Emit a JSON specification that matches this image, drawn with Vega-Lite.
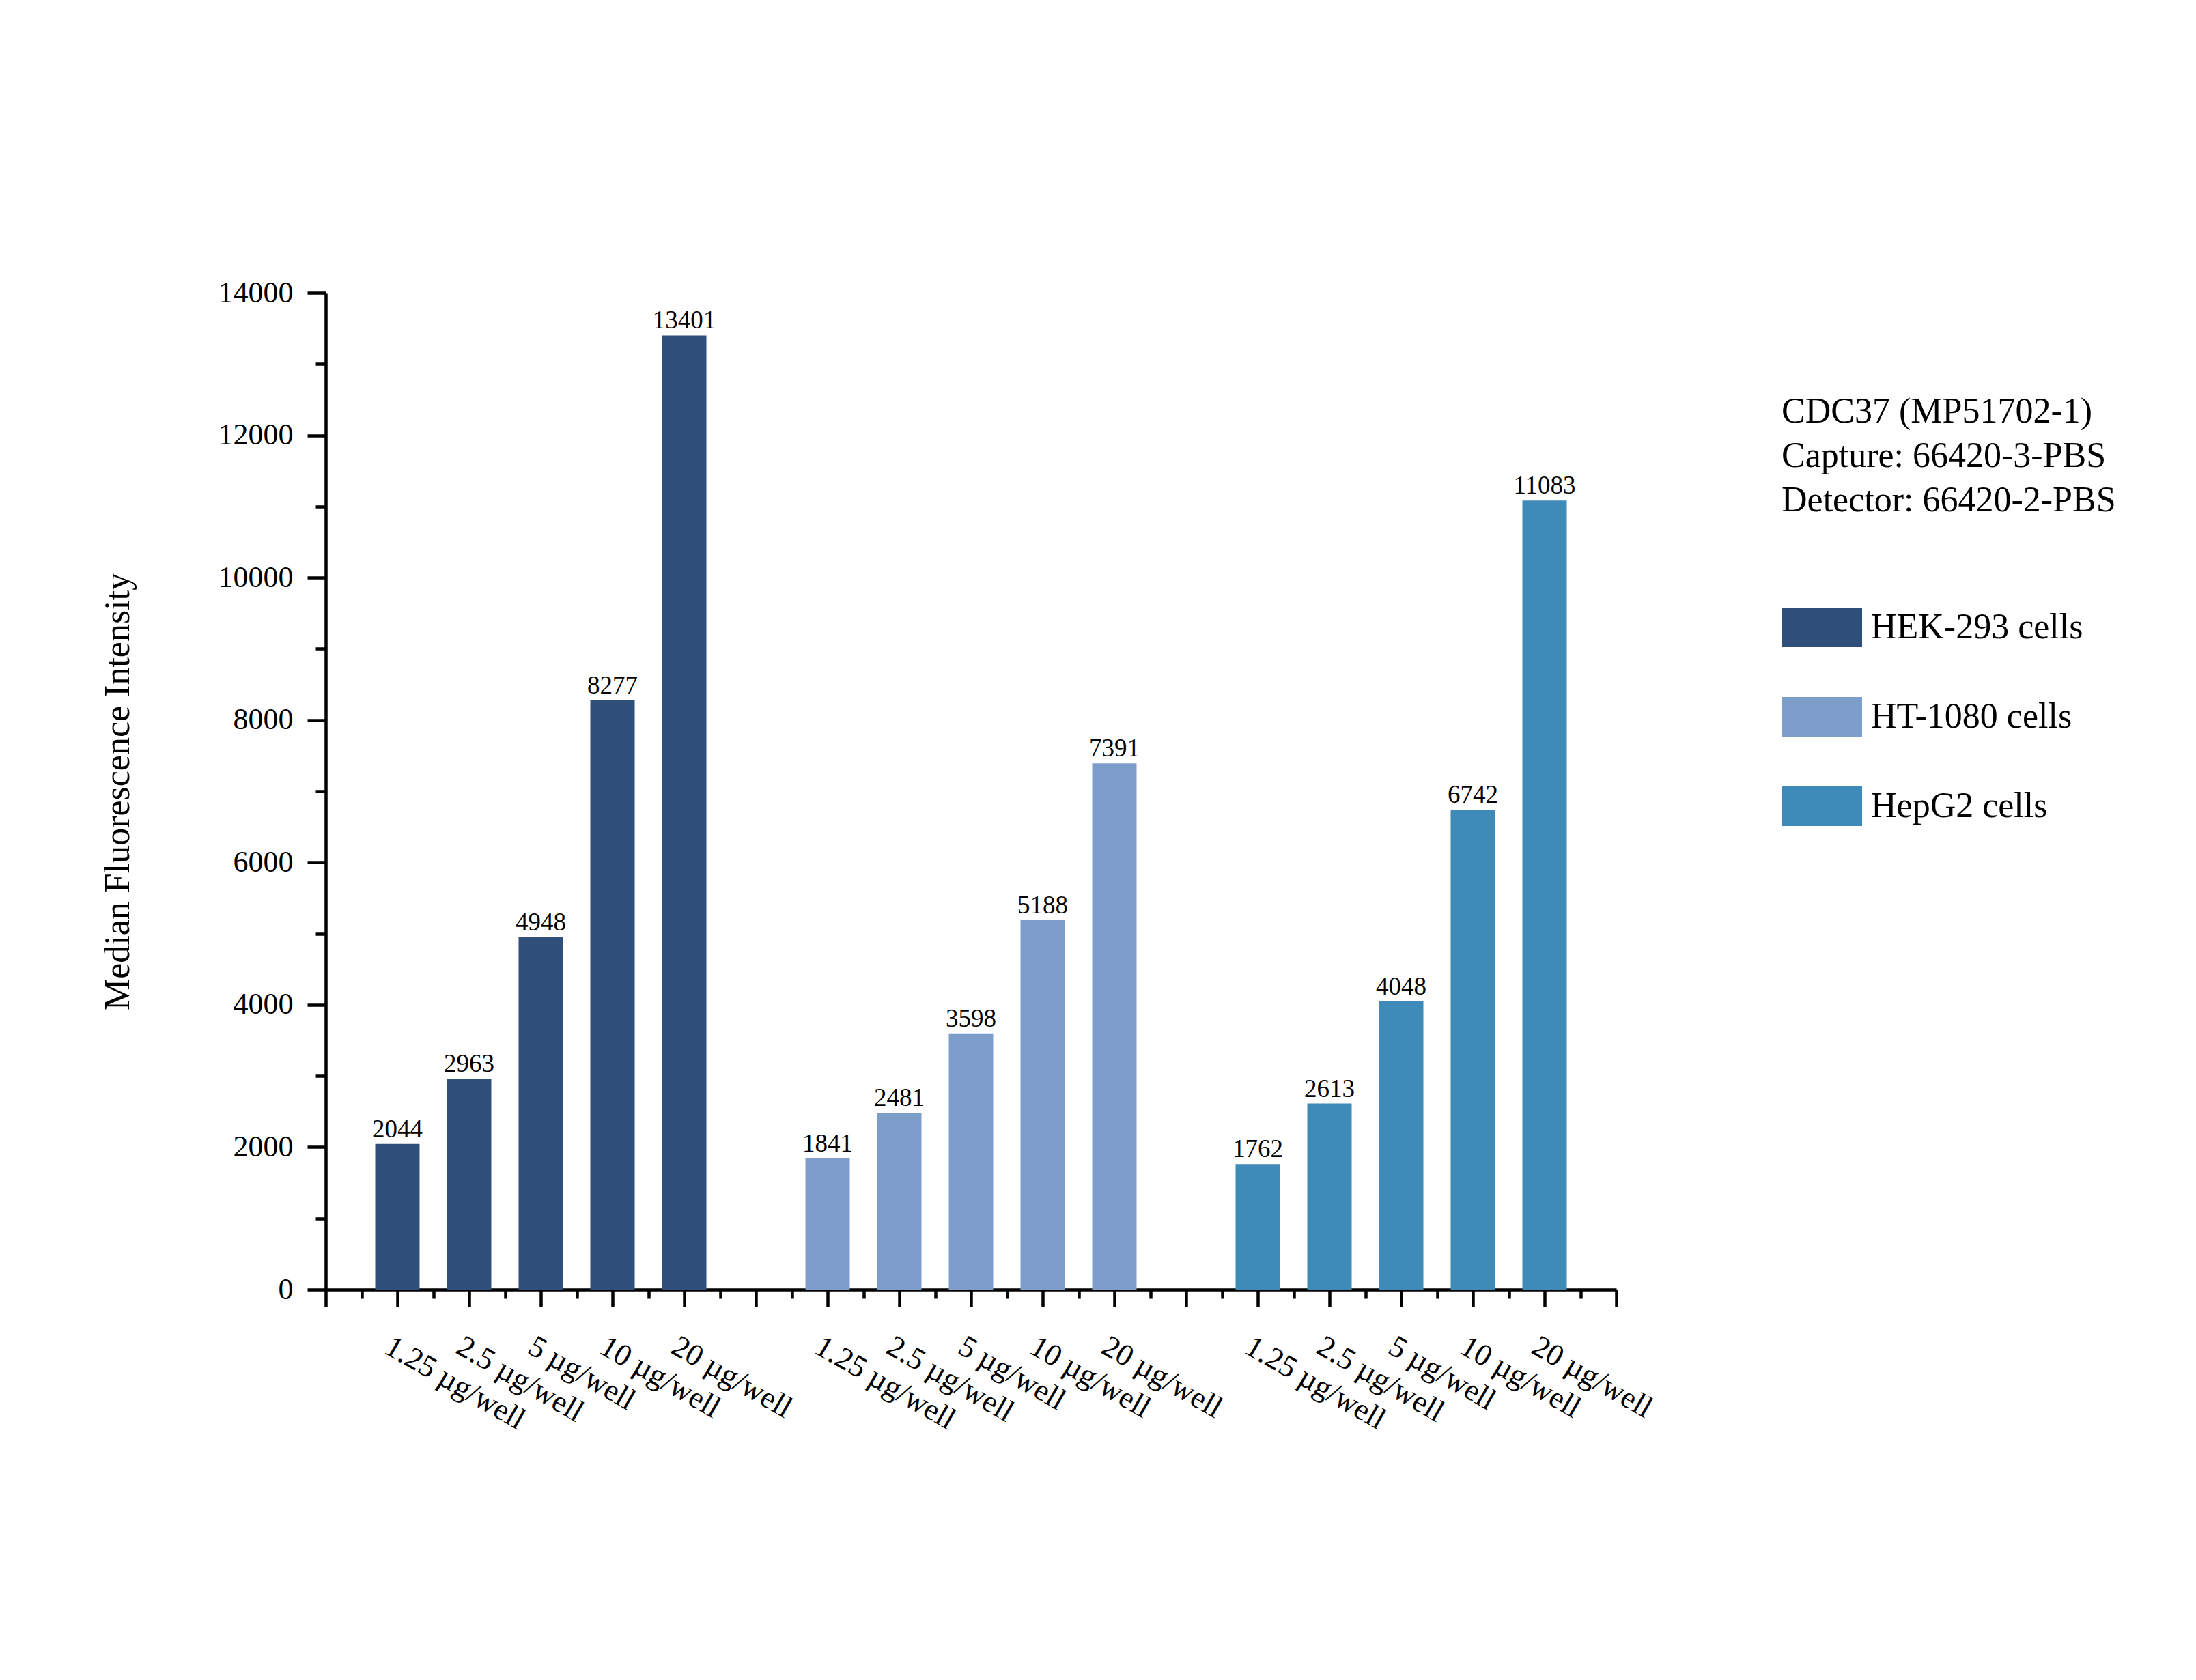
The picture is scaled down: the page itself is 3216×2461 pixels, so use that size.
{
  "$schema": "https://vega.github.io/schema/vega-lite/v6.json",
  "width": 1890,
  "height": 1460,
  "autosize": {"type": "none"},
  "padding": {"left": 477, "top": 429, "right": 849, "bottom": 572},
  "background": "white",
  "config": {
    "view": {"stroke": null},
    "font": "Liberation Serif",
    "axis": {
      "labelFont": "Liberation Serif",
      "titleFont": "Liberation Serif",
      "labelColor": "black",
      "titleColor": "black",
      "domainColor": "black",
      "tickColor": "black",
      "domainWidth": 4.5,
      "tickWidth": 4.5,
      "grid": false
    },
    "legend": {
      "labelFont": "Liberation Serif",
      "titleFont": "Liberation Serif"
    }
  },
  "data": {
    "values": [
      {"cells": "HEK-293 cells", "dose": "1.25 µg/well", "mfi": 2044},
      {"cells": "HEK-293 cells", "dose": "2.5 µg/well", "mfi": 2963},
      {"cells": "HEK-293 cells", "dose": "5 µg/well", "mfi": 4948},
      {"cells": "HEK-293 cells", "dose": "10 µg/well", "mfi": 8277},
      {"cells": "HEK-293 cells", "dose": "20 µg/well", "mfi": 13401},
      {"cells": "HT-1080 cells", "dose": "1.25 µg/well", "mfi": 1841},
      {"cells": "HT-1080 cells", "dose": "2.5 µg/well", "mfi": 2481},
      {"cells": "HT-1080 cells", "dose": "5 µg/well", "mfi": 3598},
      {"cells": "HT-1080 cells", "dose": "10 µg/well", "mfi": 5188},
      {"cells": "HT-1080 cells", "dose": "20 µg/well", "mfi": 7391},
      {"cells": "HepG2 cells", "dose": "1.25 µg/well", "mfi": 1762},
      {"cells": "HepG2 cells", "dose": "2.5 µg/well", "mfi": 2613},
      {"cells": "HepG2 cells", "dose": "5 µg/well", "mfi": 4048},
      {"cells": "HepG2 cells", "dose": "10 µg/well", "mfi": 6742},
      {"cells": "HepG2 cells", "dose": "20 µg/well", "mfi": 11083}
    ]
  },
  "transform": [
    {"calculate": "datum.cells + '|' + datum.dose", "as": "bar"}
  ],
  "encoding": {
    "x": {
      "field": "bar",
      "type": "nominal",
      "sort": null,
      "scale": {
        "type": "point",
        "padding": 0,
        "domain": [
          "_a", "~1",
          "HEK-293 cells|1.25 µg/well", "~2", "HEK-293 cells|2.5 µg/well", "~3", "HEK-293 cells|5 µg/well", "~4", "HEK-293 cells|10 µg/well", "~5", "HEK-293 cells|20 µg/well", "~6",
          "_b", "~7",
          "HT-1080 cells|1.25 µg/well", "~8", "HT-1080 cells|2.5 µg/well", "~9", "HT-1080 cells|5 µg/well", "~10", "HT-1080 cells|10 µg/well", "~11", "HT-1080 cells|20 µg/well", "~12",
          "_c", "~13",
          "HepG2 cells|1.25 µg/well", "~14", "HepG2 cells|2.5 µg/well", "~15", "HepG2 cells|5 µg/well", "~16", "HepG2 cells|10 µg/well", "~17", "HepG2 cells|20 µg/well", "~18",
          "_d"
        ]
      },
      "axis": {
        "title": null,
        "labelExpr": "indexof(datum.value, '|') > 0 ? split(datum.value, '|')[1] : ''",
        "labelAngle": 30,
        "labelAlign": "left",
        "labelBaseline": "top",
        "labelFontSize": 45,
        "labelPadding": 35,
        "labelOffset": -4,
        "labelOverlap": false,
        "labelLimit": 600,
        "tickSize": {"condition": {"test": "substring(datum.value, 0, 1) === '~'", "value": 13}, "value": 25}
      }
    },
    "y": {
      "field": "mfi",
      "type": "quantitative",
      "scale": {"domain": [0, 14000], "nice": false},
      "axis": {
        "title": "Median Fluorescence Intensity",
        "titleFontSize": 52,
        "titleFontWeight": "normal",
        "titleAngle": -90,
        "titleBaseline": "alphabetic",
        "titleAlign": "center",
        "titleX": -289,
        "titleY": 730,
        "values": [0, 1000, 2000, 3000, 4000, 5000, 6000, 7000, 8000, 9000, 10000, 11000, 12000, 13000, 14000],
        "labelExpr": "datum.value % 2000 === 0 ? format(datum.value, 'd') : ''",
        "labelFontSize": 44,
        "labelPadding": 21,
        "tickSize": {"condition": {"test": "datum.value % 2000 === 0", "value": 27}, "value": 15}
      }
    }
  },
  "layer": [
    {
      "mark": {"type": "bar", "width": 65},
      "encoding": {
        "color": {
          "field": "cells",
          "type": "nominal",
          "scale": {
            "domain": ["HEK-293 cells", "HT-1080 cells", "HepG2 cells"],
            "range": ["#304F7A", "#7D9ECB", "#3E8AB8"]
          },
          "legend": {
            "orient": "none",
            "legendX": 2132,
            "legendY": 149,
            "title": ["CDC37 (MP51702-1)", "Capture: 66420-3-PBS", "Detector: 66420-2-PBS"],
            "titleFontSize": 52,
            "titleFontWeight": "normal",
            "titleColor": "black",
            "titleLineHeight": 65,
            "titleLimit": 1000,
            "titlePadding": 100,
            "labelFontSize": 52,
            "labelColor": "black",
            "labelOffset": 13,
            "labelLimit": 1000,
            "symbolType": "M-1,-0.49H1V0.49H-1Z",
            "symbolSize": 13924,
            "symbolStrokeWidth": 0,
            "symbolOpacity": 1,
            "rowPadding": 43,
            "padding": 0
          }
        }
      }
    },
    {
      "mark": {"type": "text", "baseline": "alphabetic", "align": "center", "dy": -10, "fontSize": 37, "color": "black"},
      "encoding": {
        "text": {"field": "mfi", "type": "quantitative", "format": "d"}
      }
    }
  ]
}
